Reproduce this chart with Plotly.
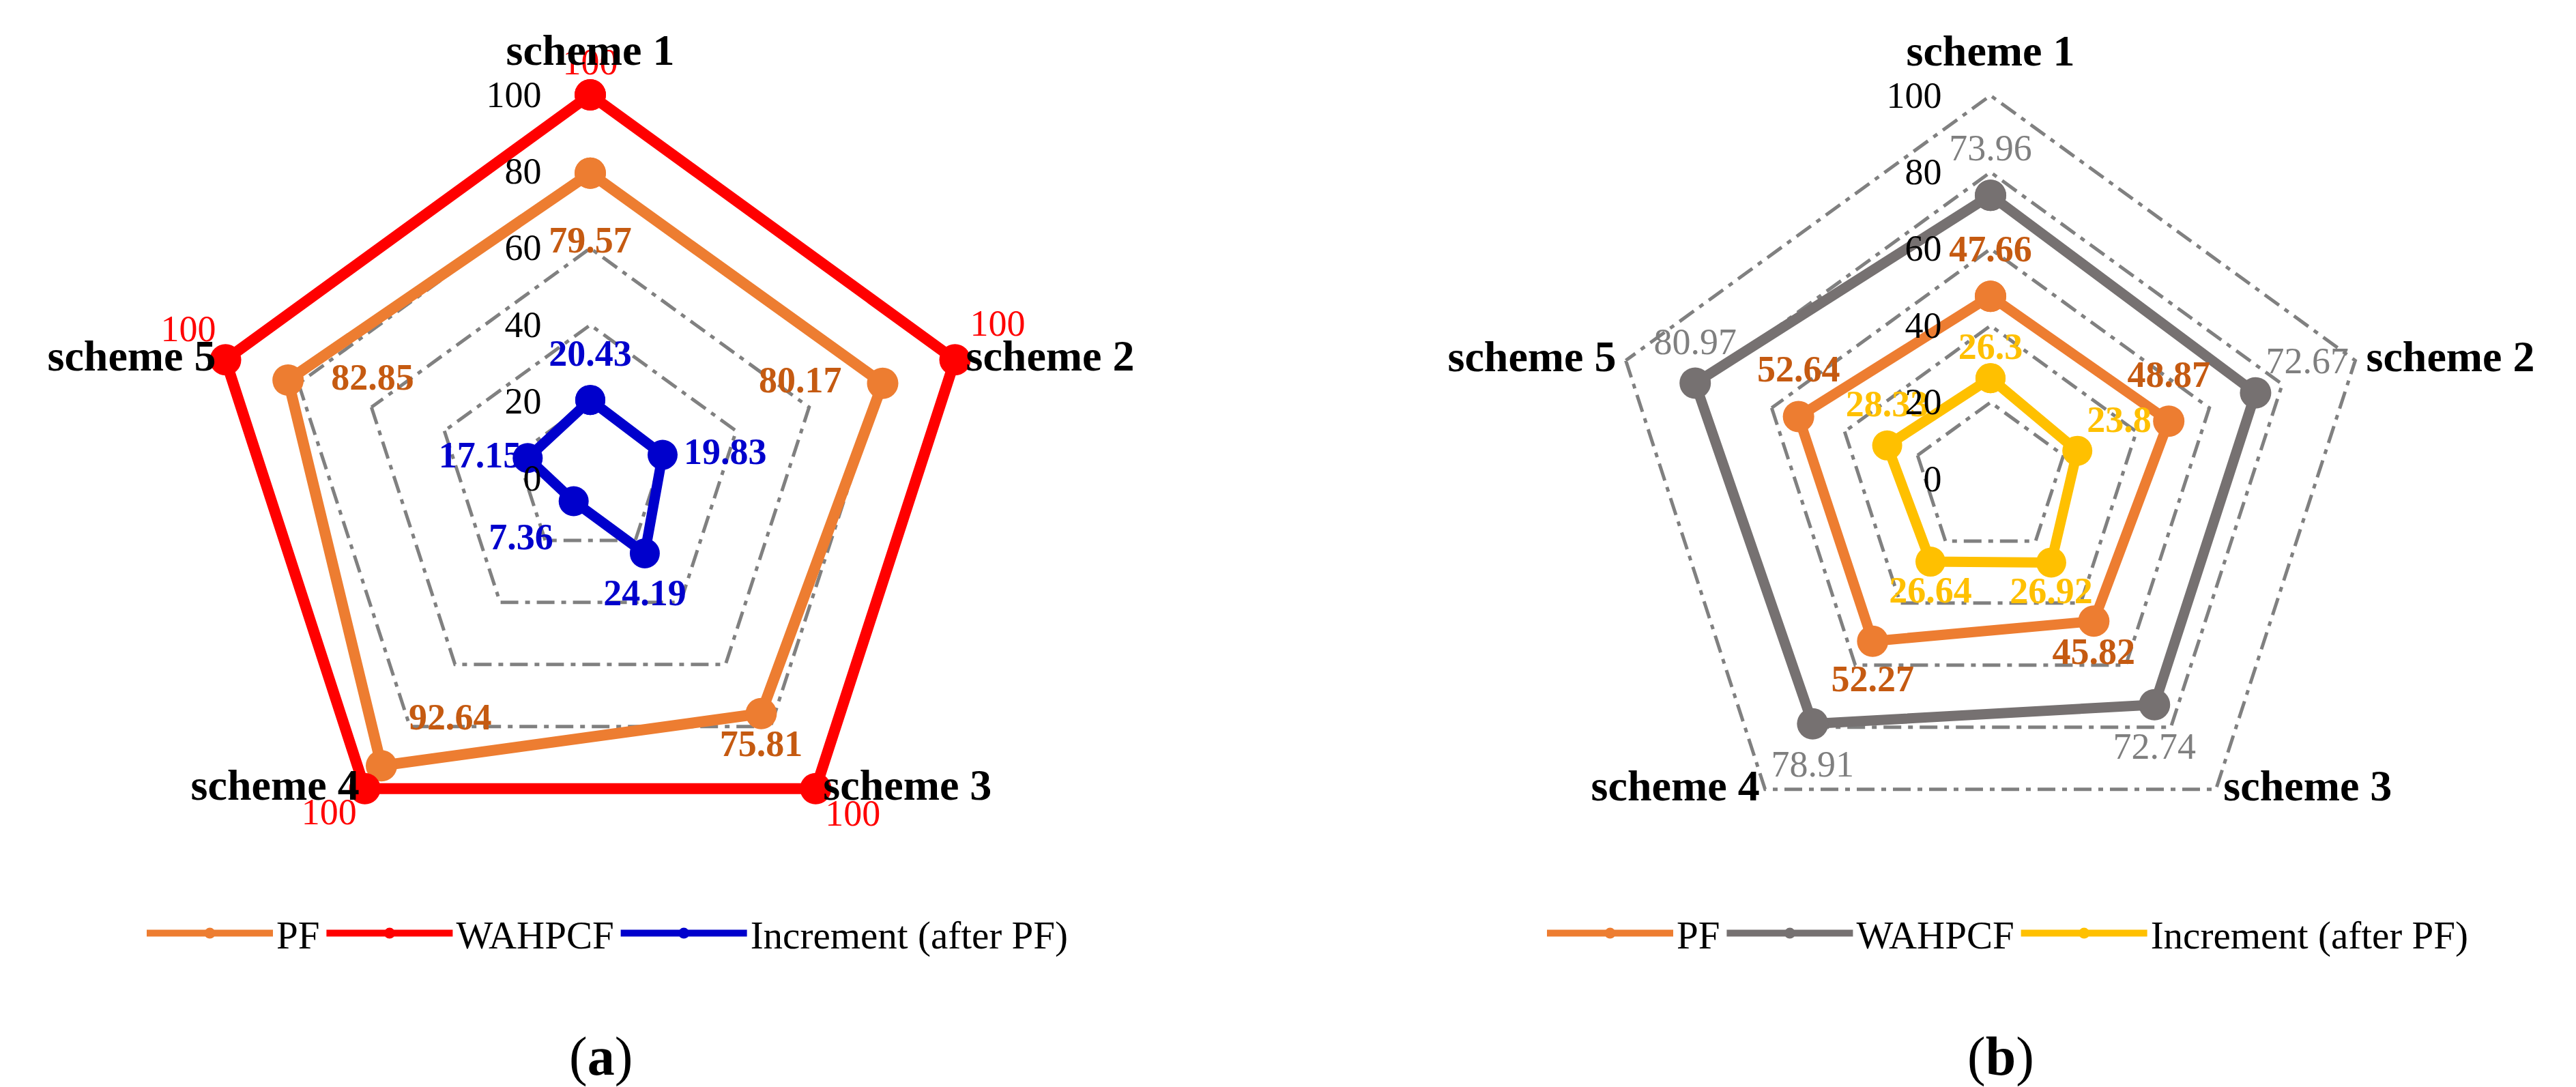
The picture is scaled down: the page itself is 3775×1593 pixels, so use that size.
import plotly.graph_objects as go

# ---------------- data ----------------
categories = ["scheme 1", "scheme 2", "scheme 3", "scheme 4", "scheme 5"]
radial_ticks = [0, 20, 40, 60, 80, 100]

# panel (a)
a_pf = [79.57, 80.17, 75.81, 92.64, 82.85]
a_wahpcf = [100, 100, 100, 100, 100]
a_inc = [20.43, 19.83, 24.19, 7.36, 17.15]

# panel (b)
b_pf = [47.66, 48.87, 45.82, 52.27, 52.64]
b_wahpcf = [73.96, 72.67, 72.74, 78.91, 80.97]
b_inc = [26.3, 23.8, 26.92, 26.64, 28.33]

series_names = ["PF", "WAHPCF", "Increment (after PF)"]
captions = ["(<b>a</b>)", "(<b>b</b>)"]

# ---------------- styles ----------------
FONT = "Liberation Serif"
C_ORANGE = "#ED7D31"
C_RED = "#FF0000"
C_BLUE = "#0000CC"
C_GRAY = "#767171"
C_YELLOW = "#FFC000"
L_ORANGE = "#C55A11"
L_GRAY = "#7F7F7F"

# label placement: text position + distance (px) from the point
a_lab = {
    "pf": (["bottom center", "middle left", "bottom center", "top right", "middle right"], [76, 60, 22, 40, 63]),
    "w": (["top center", "top right", "bottom right", "bottom left", "top left"], [17, 22, 14, 12, 14]),
    "inc": (["top center", "middle right", "bottom center", "bottom left", "middle left"], [37, 31, 36, 30, 9]),
}
b_lab = {
    "pf": (["top center", "top center", "bottom center", "bottom center", "top center"], [38, 37, 22, 33, 38]),
    "w": (["top center", "top right", "bottom center", "bottom center", "top center"], [38, 15, 39, 37, 29]),
    "inc": (["top center", "top right", "bottom center", "bottom center", "top center"], [15, 14, 19, 19, 29]),
}
cat_lab = (["top center", "middle right", "middle right", "middle left", "middle left"], [28, 16, 11, 8, 14])


def off_size(dists):
    # plotly puts text at (marker radius / 0.8 + 1) from the point
    return [max(0.0, 1.6 * (d - 1)) for d in dists]


# (values, line colour, label colour, label weight, label placement, line width, marker size)
panels = [
    dict(subplot="polar", legend="legend",
         series=[(a_pf, C_ORANGE, L_ORANGE, "bold", a_lab["pf"], 16, 46),
                 (a_wahpcf, C_RED, C_RED, "normal", a_lab["w"], 16, 46),
                 (a_inc, C_BLUE, C_BLUE, "bold", a_lab["inc"], 15, 44)]),
    dict(subplot="polar2", legend="legend2",
         series=[(b_pf, C_ORANGE, L_ORANGE, "bold", b_lab["pf"], 15, 46),
                 (b_wahpcf, C_GRAY, L_GRAY, "normal", b_lab["w"], 15, 46),
                 (b_inc, C_YELLOW, C_YELLOW, "bold", b_lab["inc"], 15, 44)]),
]

fig = go.Figure()


def fmt(v):
    return f"{v:g}"


R_MAX = radial_ticks[-1]
RANGE_MAX = R_MAX * 1.04
INVISIBLE = "rgba(0,0,0,0)"

for p in panels:
    # lines + markers (closed polygons)
    for name, (vals, col, lcol, weight, lab, lw, ms) in zip(series_names, p["series"]):
        fig.add_trace(go.Scatterpolar(
            r=list(vals) + [vals[0]],
            theta=categories + [categories[0]],
            mode="lines+markers",
            name=name,
            line=dict(color=col, width=lw),
            marker=dict(color=col, size=ms, line=dict(width=0)),
            subplot=p["subplot"],
            legend=p["legend"],
            cliponaxis=False,
            hoverinfo="skip",
        ))
    # data labels on top
    for name, (vals, col, lcol, weight, lab, lw, ms) in zip(series_names, p["series"]):
        pos, dist = lab
        fig.add_trace(go.Scatterpolar(
            r=vals,
            theta=categories,
            mode="markers+text",
            marker=dict(size=off_size(dist), color=INVISIBLE,
                        line=dict(width=0, color=INVISIBLE)),
            text=[fmt(v) for v in vals],
            textposition=pos,
            textfont=dict(family=FONT, size=54, color=lcol, weight=weight),
            subplot=p["subplot"],
            showlegend=False,
            cliponaxis=False,
            hoverinfo="skip",
        ))
    # category labels at the outer ring
    fig.add_trace(go.Scatterpolar(
        r=[R_MAX] * len(categories),
        theta=categories,
        mode="markers+text",
        marker=dict(size=off_size(cat_lab[1]), color=INVISIBLE,
                    line=dict(width=0, color=INVISIBLE)),
        text=categories,
        textposition=cat_lab[0],
        textfont=dict(family=FONT, size=64, color="black", weight="bold"),
        subplot=p["subplot"],
        showlegend=False,
        cliponaxis=False,
        hoverinfo="skip",
    ))

polar_common = dict(
    bgcolor="white",
    gridshape="linear",
    angularaxis=dict(
        direction="clockwise", rotation=90,
        showgrid=False, showline=False, ticks="", showticklabels=False,
    ),
    radialaxis=dict(
        range=[0, RANGE_MAX], tickvals=radial_ticks, ticktext=[str(t) for t in radial_ticks],
        angle=90, side="counterclockwise", tickangle=90,
        showline=False, ticks="outside", ticklen=52, tickcolor=INVISIBLE,
        showgrid=True, gridcolor="#808080", gridwidth=5,
        griddash="26px,10px,7px,10px",
        tickfont=dict(family=FONT, size=54, color="black"),
        layer="above traces",
    ),
)

W, H = 3775, 1593
R = 562 * RANGE_MAX / R_MAX


def dom(cx, cy):
    return dict(x=[(cx - R) / W, (cx + R) / W], y=[(H - cy - R) / H, (H - cy + R) / H])


leg_common = dict(orientation="h", y=1 - 1360 / H, xanchor="center", yanchor="middle",
                  font=dict(family=FONT, size=57, color="black"), itemwidth=185,
                  bgcolor=INVISIBLE)

fig.update_layout(
    width=W, height=H,
    margin=dict(l=0, r=0, t=0, b=0),
    paper_bgcolor="white",
    plot_bgcolor="white",
    font=dict(family=FONT, color="black"),
    polar=dict(domain=dom(857, 693), **polar_common),
    polar2=dict(domain=dom(2909, 694), **polar_common),
    legend=dict(x=882 / W, **leg_common),
    legend2=dict(x=2934 / W, **leg_common),
    annotations=[
        dict(text=captions[0], x=872 / W, y=1 - 1540 / H, xref="paper", yref="paper",
             xanchor="center", yanchor="middle",
             showarrow=False, font=dict(family=FONT, size=80, color="black")),
        dict(text=captions[1], x=2924 / W, y=1 - 1540 / H, xref="paper", yref="paper",
             xanchor="center", yanchor="middle",
             showarrow=False, font=dict(family=FONT, size=80, color="black")),
    ],
)

fig.write_html("out.html")
